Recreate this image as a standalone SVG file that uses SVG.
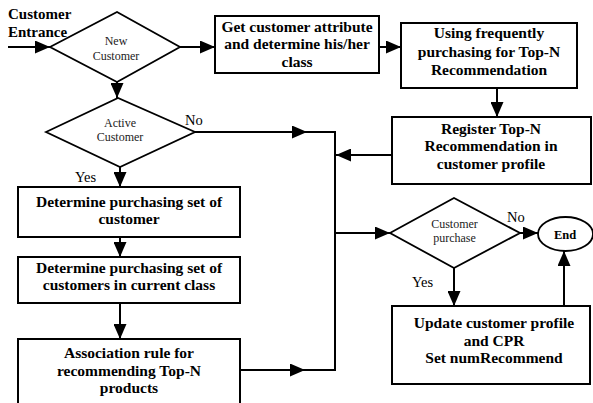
<svg xmlns="http://www.w3.org/2000/svg" width="593" height="403" viewBox="0 0 593 403">
<style>
.box{fill:#fff;stroke:#000;stroke-width:2}
.dia{fill:#fff;stroke:#000;stroke-width:1.8}
.bt{font-family:'Liberation Serif','DejaVu Serif',serif;font-weight:bold;font-size:15.5px;fill:#000;text-anchor:middle}
.dt{font-family:'Liberation Serif','DejaVu Serif',serif;font-size:12px;fill:#222;text-anchor:middle}
.lb{font-family:'Liberation Serif','DejaVu Serif',serif;font-size:14.5px;fill:#000}
.c{fill:none;stroke:#000;stroke-width:2}
.ca{fill:none;stroke:#000;stroke-width:2;marker-end:url(#ah)}
</style>
<defs>
<marker id="ah" markerUnits="userSpaceOnUse" markerWidth="15" markerHeight="13" refX="15" refY="6.5" orient="auto">
<path d="M0,0 L15,6.5 L0,13 Z" fill="#000"/>
</marker>
</defs>

<text class="bt" x="8" y="19" style="text-anchor:start;font-size:15px">Customer</text>
<text class="bt" x="8" y="37" style="text-anchor:start;font-size:15px">Entrance</text>

<g id="connectors">
<path class="ca" d="M8,47 L50,47"/>
<path class="ca" d="M180,47 L215,47"/>
<path class="ca" d="M379,47 L401,47"/>
<path class="ca" d="M497,88 L497,117"/>
<path class="ca" d="M117,82 L117,98"/>
<path class="ca" d="M195,132 L307,132"/>
<path class="c" d="M307,132 L335,132 L335,370 L305,370"/>
<path class="ca" d="M392,155 L336,155"/>
<path class="ca" d="M335,233 L390,233"/>
<path class="ca" d="M520,233 L538,233"/>
<path class="ca" d="M454,268 L454,306"/>
<path class="ca" d="M564,306 L564,251"/>
<path class="ca" d="M120,167 L120,187"/>
<path class="ca" d="M120,225 L120,257"/>
<path class="ca" d="M120,303 L120,339"/>
<path class="ca" d="M240,370 L305,370"/>
</g>

<g id="new-customer">
<polygon class="dia" points="50,47 117,12 180,47 117,82"/>
<text class="dt" x="116" y="45">New</text>
<text class="dt" x="116" y="60">Customer</text>
</g>

<g id="get-attribute">
<rect class="box" x="215" y="16" width="164" height="57"/>
<text class="bt" x="297" y="31.5">Get customer attribute</text>
<text class="bt" x="297" y="49.3">and determine his/her</text>
<text class="bt" x="297" y="67">class</text>
</g>

<g id="frequent-topn">
<rect class="box" x="401" y="23" width="176" height="65"/>
<text class="bt" x="489" y="38.3">Using frequently</text>
<text class="bt" x="489" y="56.6">purchasing for Top-N</text>
<text class="bt" x="489" y="75">Recommendation</text>
</g>

<g id="register-topn">
<rect class="box" x="392" y="117" width="199" height="67"/>
<text class="bt" x="491" y="133.5">Register Top-N</text>
<text class="bt" x="491" y="151">Recommendation in</text>
<text class="bt" x="491" y="168.5">customer profile</text>
</g>

<g id="active-customer">
<polygon class="dia" points="46,132 118,98 195,132 120,167"/>
<text class="dt" x="120" y="127">Active</text>
<text class="dt" x="120" y="141">Customer</text>
</g>
<text class="lb" x="185" y="125">No</text>
<text class="lb" x="75" y="182">Yes</text>

<g id="purchasing-set">
<rect class="box" x="18" y="187" width="222" height="50"/>
<text class="bt" x="129" y="207">Determine purchasing set of</text>
<text class="bt" x="129" y="224">customer</text>
</g>

<g id="class-purchasing-set">
<rect class="box" x="18" y="257" width="222" height="46"/>
<text class="bt" x="129" y="272.5">Determine purchasing set of</text>
<text class="bt" x="129" y="290">customers in current class</text>
</g>

<g id="association-rule">
<rect class="box" x="18" y="339" width="222" height="72"/>
<text class="bt" x="129" y="358">Association rule for</text>
<text class="bt" x="129" y="375.5">recommending Top-N</text>
<text class="bt" x="129" y="393">products</text>
</g>

<g id="customer-purchase">
<polygon class="dia" points="390,233 454,198 520,233 454,268"/>
<text class="dt" x="454.5" y="228">Customer</text>
<text class="dt" x="454.5" y="242">purchase</text>
</g>
<text class="lb" x="507" y="222">No</text>
<text class="lb" x="412" y="287">Yes</text>

<g id="end">
<ellipse cx="565.5" cy="234" rx="27.5" ry="17" fill="#fff" stroke="#000" stroke-width="1.8"/>
<text class="bt" x="565" y="238.5" style="font-size:12.5px">End</text>
</g>

<g id="update-profile">
<rect class="box" x="392" y="306" width="198" height="78"/>
<text class="bt" x="494" y="328">Update customer profile</text>
<text class="bt" x="494" y="345.5">and CPR</text>
<text class="bt" x="494" y="363">Set numRecommend</text>
</g>
</svg>
